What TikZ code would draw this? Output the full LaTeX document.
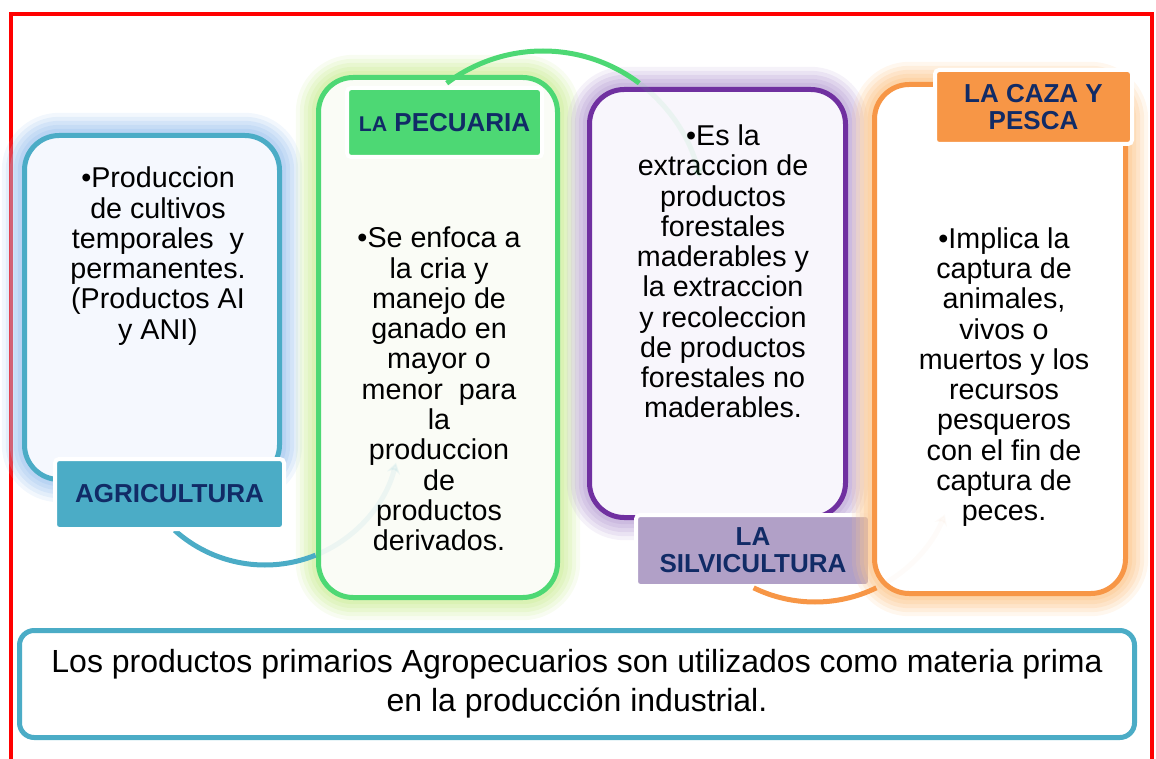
\documentclass[tikz,border=0pt]{standalone}
\usepackage{fontspec}
\setmainfont{Liberation Sans}
\usetikzlibrary{arrows.meta}

\definecolor{agrblue}{HTML}{4BACC6}
\definecolor{agrglow}{HTML}{A6C8F0}
\definecolor{agrfill}{HTML}{F5F8FE}
\definecolor{pecgreen}{HTML}{4DD874}
\definecolor{pecglow}{HTML}{D0EEA0}
\definecolor{pecfill}{HTML}{FAFCF6}
\definecolor{silvpurple}{HTML}{7030A0}
\definecolor{silvglow}{HTML}{BEA8D8}
\definecolor{silvfill}{HTML}{F8F6FC}
\definecolor{silvlabel}{HTML}{B1A0C7}
\definecolor{cazaorange}{HTML}{F79646}
\definecolor{cazaglow}{HTML}{FCC890}
\definecolor{navy}{HTML}{112B66}

\begin{document}
\begin{tikzpicture}[x=0.75pt, y=-0.75pt,
    box/.style={draw=#1, line width=3.75pt, rounded corners=26pt},
    glow/.style={preaction={draw=#1, line width=34pt, opacity=0.15},
                 preaction={draw=#1, line width=28pt, opacity=0.2},
                 preaction={draw=#1, line width=22pt, opacity=0.25},
                 preaction={draw=#1, line width=16pt, opacity=0.3},
                 preaction={draw=#1, line width=10pt, opacity=0.4}},
    lbl/.style={fill=#1, draw=white, line width=3pt, rounded corners=3pt, text=navy,
                font=\fontsize{19.5}{20}\selectfont\bfseries, align=center, inner sep=0pt},
    body/.style={align=center, font=\fontsize{21.5}{22.7}\selectfont, inner sep=0pt},
    link/.style={draw=#1, line width=3.75pt},
    fade/.style={draw=#1, line width=3.75pt, opacity=0.08, -{Stealth[length=8pt, width=10pt]}}]

    \useasboundingbox (0,0) rectangle (1156,759);
    \draw[red, line width=3pt] (11,14) rectangle (1152,790);

    % agricultura
    \node[box=agrblue, glow=agrglow, fill=agrfill, minimum width=191.25pt, minimum height=258pt] (AGRbox) at (152,307.5) {};
    \node[body] (AGRtxt) at (158,256) {•Produccion\\ de cultivos\\ temporales~~y\\ permanentes.\\ (Productos AI\\ y ANI)};

    % pecuaria
    \node[box=pecgreen, glow=pecglow, fill=pecfill, minimum width=179.25pt, minimum height=390pt] (PECbox) at (438,337.5) {};
    \node[body] (PECtxt) at (439,389) {•Se enfoca a\\ la cria y\\ manejo de\\ ganado en\\ mayor o\\ menor~~para\\ la\\ produccion\\ de\\ productos\\ derivados.};

    % silvicultura
    \node[box=silvpurple, glow=silvglow, fill=silvfill, minimum width=192pt, minimum height=321pt] (SILVbox) at (717.5,303.5) {};
    \node[body] (SILVtxt) at (723,271.5) {•Es la\\ extraccion de\\ productos\\ forestales\\ maderables y\\ la extraccion\\ y recoleccion\\ de productos\\ forestales no\\ maderables.};

    % arcs between boxes
    \coordinate (Bc) at (265,430);
    \coordinate (Gc) at (543,211);
    \draw[link=agrblue] ([shift={(132:135)}]Bc) arc[start angle=132, end angle=68, radius=135];
    \draw[fade=agrblue] ([shift={(68:135)}]Bc) arc[start angle=68, end angle=14, radius=135];
    \draw[link=pecgreen] ([shift={(-127:160)}]Gc) arc[start angle=-127, end angle=-53, radius=160];
    \draw[fade=pecgreen] ([shift={(-53:160)}]Gc) arc[start angle=-53, end angle=-12, radius=160];

    \node[lbl=agrblue, minimum width=171.75pt, minimum height=52.5pt] (AGRlbl) at (169.5,494) {AGRICULTURA};
    \node[lbl=pecgreen, minimum width=146.25pt, minimum height=51.75pt] (PEClbl) at (444.5,122.5) {{\fontsize{16}{18}\selectfont LA} PECUARIA};
    \node[lbl=silvlabel, minimum width=175.5pt, minimum height=53.25pt] (SILVlbl) at (753,550.5) {LA\\ SILVICULTURA};

    % caza y pesca
    \node[box=cazaorange, glow=cazaglow, fill=white, minimum width=188.25pt, minimum height=381.75pt] (CAZAbox) at (1000,339) {};
    \node[body] (CAZAtxt) at (1004,377) {•Implica la\\ captura de\\ animales,\\ vivos o\\ muertos y los\\ recursos\\ pesqueros\\ con el fin de\\ captura de\\ peces.};
    \coordinate (Oc) at (815,462);
    \draw[link=cazaorange] ([shift={(116:140)}]Oc) arc[start angle=116, end angle=64, radius=140];
    \draw[fade=cazaorange, opacity=0.03] ([shift={(64:140)}]Oc) arc[start angle=64, end angle=22, radius=140];
    \node[lbl=cazaorange, minimum width=147.75pt, minimum height=55.5pt, font=\fontsize{19.5}{20.25}\selectfont\bfseries] (CAZAlbl) at (1033.5,107) {LA CAZA Y\\ PESCA};

    % bottom note
    \node[draw=agrblue, line width=3.75pt, rounded corners=11pt, fill=white, minimum width=836.25pt, minimum height=80.25pt,
          align=center, font=\fontsize{24}{29.25}\selectfont] (NOTE) at (577,684)
          {Los productos primarios Agropecuarios son utilizados como materia prima\\ en la producción industrial.};
\end{tikzpicture}
\end{document}
